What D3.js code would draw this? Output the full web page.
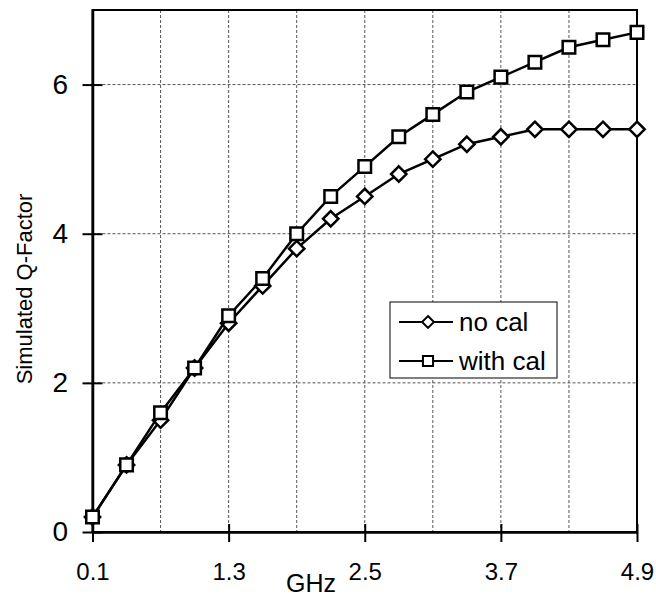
<!DOCTYPE html>
<html>
<head>
<meta charset="utf-8">
<script src="https://cdn.jsdelivr.net/npm/d3@7"></script>
<style>
  body { margin: 0; background: #fff; }
  text { font-family: "Liberation Sans", Arial, sans-serif; fill: #000; }
</style>
</head>
<body>
<div id="container"></div>
<script>
/* DATA */
const freqs = [0.1, 0.4, 0.7, 1.0, 1.3, 1.6, 1.9, 2.2, 2.5, 2.8, 3.1, 3.4, 3.7, 4.0, 4.3, 4.6, 4.9];
const noCal = [0.2, 0.9, 1.5, 2.2, 2.8, 3.3, 3.8, 4.2, 4.5, 4.8, 5.0, 5.2, 5.3, 5.4, 5.4, 5.4, 5.4];
const withCal = [0.2, 0.9, 1.6, 2.2, 2.9, 3.4, 4.0, 4.5, 4.9, 5.3, 5.6, 5.9, 6.1, 6.3, 6.5, 6.6, 6.7];
const xTicks = [0.1, 1.3, 2.5, 3.7, 4.9];
const xGrid = [0.7, 1.3, 1.9, 2.5, 3.1, 3.7, 4.3];
const yTicks = [0, 2, 4, 6];
const seriesNames = ["no cal", "with cal"];

/* CONSTANTS */
const width = 656;
const height = 597;
const plotLeft = 92.5, plotRight = 637, plotTop = 10, plotBottom = 532;

const svg = d3.select("#container")
  .append("svg")
  .attr("width", width)
  .attr("height", height);

/* SCALES */
const xScale = d3.scaleLinear().domain([0.1, 4.9]).range([plotLeft, plotRight]);
const yScale = d3.scaleLinear().domain([0, 7]).range([plotBottom, plotTop]);

// grid lines
svg.append("g")
  .selectAll("line")
  .data(xGrid)
  .join("line")
    .attr("x1", d => xScale(d)).attr("x2", d => xScale(d))
    .attr("y1", plotTop).attr("y2", plotBottom)
    .attr("stroke", "#555").attr("stroke-width", 1)
    .attr("stroke-dasharray", "3,2");

svg.append("g")
  .selectAll("line")
  .data(yTicks.filter(d => d > 0))
  .join("line")
    .attr("x1", plotLeft).attr("x2", plotRight)
    .attr("y1", d => yScale(d)).attr("y2", d => yScale(d))
    .attr("stroke", "#555").attr("stroke-width", 1)
    .attr("stroke-dasharray", "3,2");

// frame
svg.append("rect")
  .attr("x", plotLeft).attr("y", plotTop)
  .attr("width", plotRight - plotLeft).attr("height", plotBottom - plotTop)
  .attr("fill", "none").attr("stroke", "#000").attr("stroke-width", 2);

// x axis
const xAxis = d3.axisBottom(xScale)
  .tickValues(xTicks)
  .tickFormat(d3.format(".1f"))
  .tickSizeInner(10)
  .tickSizeOuter(0)
  .tickPadding(21);

const gx = svg.append("g")
  .attr("transform", `translate(0, ${plotBottom})`)
  .call(xAxis);
gx.select(".domain").attr("stroke-width", 2.5);
gx.selectAll(".tick line").attr("stroke-width", 2).attr("y1", -8);
gx.selectAll(".tick text").attr("font-size", 24).attr("font-family", "Liberation Sans");

// y axis
const yAxis = d3.axisLeft(yScale)
  .tickValues(yTicks)
  .tickFormat(d3.format("d"))
  .tickSizeInner(10)
  .tickSizeOuter(0)
  .tickPadding(14.5);

const gy = svg.append("g")
  .attr("transform", `translate(${plotLeft}, 0)`)
  .call(yAxis);
gy.select(".domain").attr("stroke-width", 2.5);
gy.selectAll(".tick line").attr("stroke-width", 2).attr("x2", -10).attr("x1", 10);
gy.selectAll(".tick text").attr("font-size", 28).attr("font-family", "Liberation Sans");

// axis titles
svg.append("text")
  .attr("x", 311).attr("y", 592)
  .attr("text-anchor", "middle")
  .attr("font-size", 25)
  .text("GHz");

svg.append("text")
  .attr("transform", "translate(32, 289) rotate(-90)")
  .attr("text-anchor", "middle")
  .attr("font-size", 22)
  .text("Simulated Q-Factor");

/* LINES */
const series = [noCal, withCal].map((vals, i) => ({
  name: seriesNames[i],
  points: freqs.map((f, j) => ({ x: f, y: vals[j] }))
}));

const line = d3.line().x(d => xScale(d.x)).y(d => yScale(d.y));
const shapes = [d3.symbolDiamond2, d3.symbolSquare2];
const sizes = [150, 200];

series.forEach((s, i) => {
  svg.append("path")
    .datum(s.points)
    .attr("fill", "none")
    .attr("stroke", "#000")
    .attr("stroke-width", 2.5)
    .attr("d", line);

  svg.append("g")
    .selectAll("path")
    .data(s.points)
    .join("path")
      .attr("transform", d => `translate(${xScale(d.x)}, ${yScale(d.y)})`)
      .attr("d", d3.symbol().type(shapes[i]).size(sizes[i]))
      .attr("fill", "#fff")
      .attr("stroke", "#000")
      .attr("stroke-width", 2.5);
});

/* LEGEND */
const legend = svg.append("g").attr("transform", "translate(390, 302)");
legend.append("rect")
  .attr("width", 167).attr("height", 76)
  .attr("fill", "#fff").attr("stroke", "#000").attr("stroke-width", 1);

seriesNames.forEach((name, i) => {
  const row = legend.append("g").attr("transform", `translate(0, ${20 + i * 39})`);
  row.append("line")
    .attr("x1", 9).attr("x2", 63)
    .attr("stroke", "#000").attr("stroke-width", 2);
  row.append("path")
    .attr("transform", "translate(38, 0)")
    .attr("d", d3.symbol().type(shapes[i]).size(i === 0 ? 90 : 130))
    .attr("fill", "#fff").attr("stroke", "#000").attr("stroke-width", 2);
  row.append("text")
    .attr("x", 69).attr("y", 9)
    .attr("font-size", 26)
    .text(name);
});
</script>
</body>
</html>
